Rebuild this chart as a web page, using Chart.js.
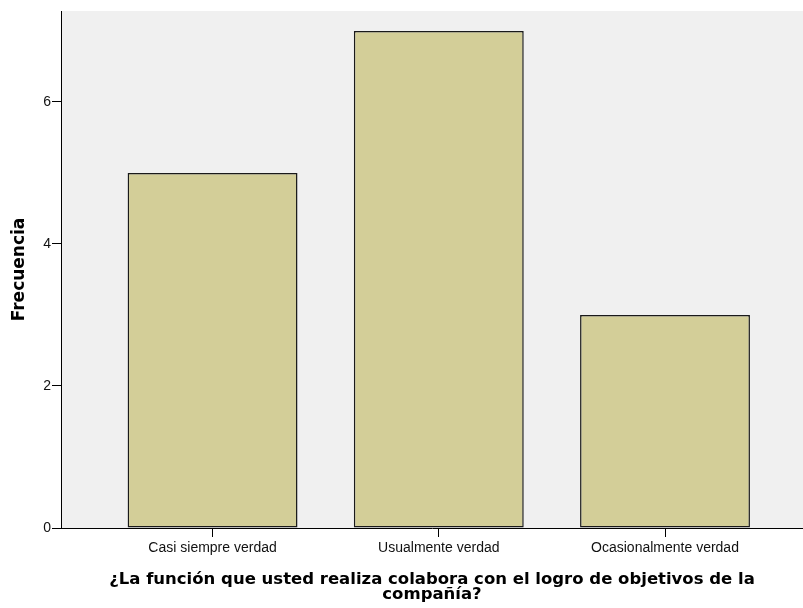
<!DOCTYPE html>
<html>
<head>
<meta charset="utf-8">
<script src="https://cdn.jsdelivr.net/npm/chart.js@4"></script>
<style>
  html, body { margin: 0; padding: 0; background: #ffffff; }
  #wrap { width: 803px; height: 608px; }
</style>
</head>
<body>
<div id="wrap"><canvas id="chart" width="803" height="608"></canvas></div>
<script>
const categories = ["Casi siempre verdad", "Usualmente verdad", "Ocasionalmente verdad"];
const positions = [1, 2, 3];
const frequencies = [5, 7, 3];
const yTicks = [0, 2, 4, 6];
const xTitle = ["¿La función que usted realiza colabora con el logro de objetivos de la", "compañía?"];
const yTitle = "Frecuencia";

// gray plot background
const plotBackground = {
  id: "plotBackground",
  beforeDraw(chart) {
    const { ctx, chartArea } = chart;
    ctx.save();
    ctx.fillStyle = "#f0f0f0";
    ctx.fillRect(chartArea.left, chartArea.top, chartArea.right - chartArea.left, chartArea.bottom - chartArea.top);
    ctx.restore();
  },
};

const ctx = document.getElementById("chart").getContext("2d");
new Chart(ctx, {
  type: "bar",
  data: {
    datasets: [
      {
        data: positions.map((p, i) => ({ x: p, y: frequencies[i] })),
        backgroundColor: "#d3ce98",
        borderColor: "#1a1a1a",
        borderWidth: 1.5,
        borderSkipped: false,
        categoryPercentage: 1,
        barPercentage: 0.751,
      },
    ],
  },
  options: {
    responsive: false,
    animation: false,
    layout: { padding: { top: 11, right: 0, left: 0, bottom: 0 } },
    plugins: {
      legend: { display: false },
      tooltip: { enabled: false },
    },
    scales: {
      x: {
        type: "linear",
        offset: false,
        min: 0.33,
        max: 3.61,
        afterBuildTicks: (scale) => {
          scale.ticks = positions.map((v) => ({ value: v }));
        },
        afterFit: (scale) => {
          scale.height = 80;
        },
        grid: {
          offset: false,
          drawOnChartArea: false,
          tickLength: 9,
          color: "#000000",
        },
        border: { display: true, color: "#000000", width: 1 },
        ticks: {
          autoSkip: false,
          maxRotation: 0,
          padding: 3,
          color: "#111111",
          font: { family: "Liberation Sans", size: 14 },
          callback: (value) => categories[value - 1],
        },
        title: {
          display: true,
          text: xTitle,
          color: "#000000",
          font: { family: "DejaVu Sans", size: 16.5, weight: "bold", lineHeight: 0.9 },
          padding: { top: 0, bottom: 6 },
        },
      },
      y: {
        min: 0,
        max: 7.28,
        afterBuildTicks: (scale) => {
          scale.ticks = yTicks.map((v) => ({ value: v }));
        },
        afterFit: (scale) => {
          scale.width = 61;
        },
        grid: {
          drawOnChartArea: false,
          tickLength: 9,
          color: "#000000",
        },
        border: { display: true, color: "#000000", width: 1 },
        ticks: {
          padding: 1,
          color: "#111111",
          font: { family: "Liberation Sans", size: 14 },
        },
        title: {
          display: true,
          text: yTitle,
          color: "#000000",
          font: { family: "DejaVu Sans", size: 17, weight: "bold", lineHeight: 1 },
          padding: { top: 11, bottom: 0 },
        },
      },
    },
  },
  plugins: [plotBackground],
});
</script>
</body>
</html>
